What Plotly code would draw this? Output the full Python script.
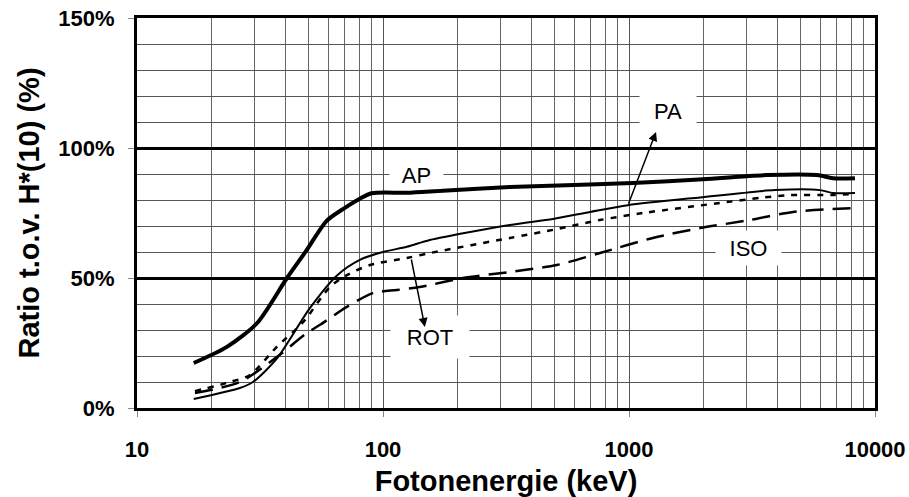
import numpy as np
import plotly.graph_objects as go

# Data
ap_e = [17, 23.2, 30.8, 40.7, 49, 59, 70, 80.5, 90, 125, 175, 328, 600, 1037, 2000, 3640, 5810, 6750, 8290]
ap_v = [17.3, 23.5, 32.7, 50, 60.8, 72, 77, 80.5, 82.6, 82.8, 83.6, 85, 85.8, 86.5, 88, 89.6, 89.6, 88.4, 88.4]

pa_e = [17, 26.2, 29.6, 37, 50.5, 65, 80.5, 100, 125, 155, 328, 491, 694, 990, 1945, 3920, 5970, 6750, 8290]
pa_v = [3.5, 7.7, 10, 19, 38.5, 51, 57, 60, 62, 64.6, 70.4, 72.7, 75.4, 78, 81, 83.8, 83.8, 82.7, 82.7]

rot_e = [17.2, 23.9, 28.8, 37, 47.3, 60.8, 71, 88.5, 125, 155, 328, 509, 762, 1140, 2500, 3410, 4510, 6750, 8100]
rot_v = [6.5, 10, 12.7, 23.5, 33, 46.5, 51, 55, 57.7, 59.6, 65.4, 68.8, 72.3, 75, 79.2, 80.8, 81.9, 81.9, 82.3]

iso_e = [17.2, 26.2, 37, 49, 55.5, 71, 91, 114, 141, 211, 328, 509, 762, 1250, 1945, 3100, 4640, 8100]
iso_v = [5.8, 10, 19.6, 28.8, 32, 38.8, 44.2, 45.4, 46.5, 50, 52.3, 55, 59.6, 65.4, 69.2, 72.3, 75.4, 76.9]

y_ticks = [0, 50, 100, 150]
y_labels = ["0%", "50%", "100%", "150%"]
x_ticks = [10, 100, 1000, 10000]
x_labels = ["10", "100", "1000", "10000"]

FONT = "Liberation Sans, Arial, sans-serif"
SM = 0.75

fig = go.Figure()
fig.add_trace(go.Scatter(x=iso_e, y=iso_v, mode="lines", line=dict(color="black", width=2.5, dash="18px,9px", shape="spline", smoothing=SM), name="ISO"))
fig.add_trace(go.Scatter(x=rot_e, y=rot_v, mode="lines", line=dict(color="black", width=2.5, dash="6px,7px", shape="spline", smoothing=SM), name="ROT"))
fig.add_trace(go.Scatter(x=pa_e, y=pa_v, mode="lines", line=dict(color="black", width=2, shape="spline", smoothing=SM), name="PA"))
fig.add_trace(go.Scatter(x=ap_e, y=ap_v, mode="lines", line=dict(color="black", width=4, shape="spline", smoothing=SM), name="AP"))

lg = np.log10
ann_font = dict(family=FONT, size=22, color="black")
annotations = [
    dict(x=lg(137), y=89.5, text="AP", showarrow=False, bgcolor="white", font=ann_font, width=53, height=24, borderpad=0),
    dict(x=lg(1442), y=114.2, text="PA", showarrow=False, bgcolor="white", font=ann_font, width=56, height=32, borderpad=0),
    dict(x=lg(155), y=27.3, text="ROT", showarrow=False, bgcolor="white", font=ann_font, width=78, height=42, borderpad=0),
    dict(x=lg(3050), y=61.5, text="ISO", showarrow=False, bgcolor="white", font=ann_font, width=65, height=34, borderpad=0),
    dict(x=lg(1288), y=106.2, ax=lg(990), ay=78, axref="x", ayref="y", text="", showarrow=True,
         arrowhead=2, arrowsize=1.2, arrowwidth=1.5, arrowcolor="black"),
    dict(x=lg(148), y=31.2, ax=lg(130), ay=57.7, axref="x", ayref="y", text="", showarrow=True,
         arrowhead=2, arrowsize=1.2, arrowwidth=1.5, arrowcolor="black"),
]

fig.update_layout(
    width=909, height=497,
    margin=dict(l=137, r=34, t=18, b=89),
    paper_bgcolor="white", plot_bgcolor="white",
    showlegend=False,
    font=dict(family=FONT, color="black"),
    annotations=annotations,
)
fig.update_xaxes(
    type="log", range=[1, 4], automargin=False,
    tickvals=x_ticks, ticktext=x_labels,
    tickfont=dict(family=FONT, size=22, color="black", weight="bold"),
    showgrid=True, gridcolor="#555", gridwidth=1,
    minor=dict(dtick="D1", showgrid=True, gridcolor="#666", gridwidth=1),
    showline=True, linecolor="black", linewidth=3, mirror=True,
    ticks="outside", ticklen=6, tickcolor="#888", ticklabelstandoff=14,
    title=dict(text="Fotonenergie (keV)", font=dict(family=FONT, size=29, color="black", weight="bold"), standoff=14),
    zeroline=False,
)
fig.update_yaxes(
    range=[0, 150], automargin=False,
    tickvals=y_ticks, ticktext=y_labels,
    tickfont=dict(family=FONT, size=22, color="black", weight="bold"),
    showgrid=True, gridcolor="black", gridwidth=2.5,
    minor=dict(dtick=10, showgrid=True, gridcolor="#555", gridwidth=1),
    showline=True, linecolor="black", linewidth=3, mirror=True,
    ticks="outside", ticklen=6, tickcolor="#888", ticklabelstandoff=9,
    title=dict(text="Ratio t.o.v. H*(10) (%)", font=dict(family=FONT, size=29, color="black", weight="bold"), standoff=11),
    zeroline=False,
)

fig.write_html("out.html")
